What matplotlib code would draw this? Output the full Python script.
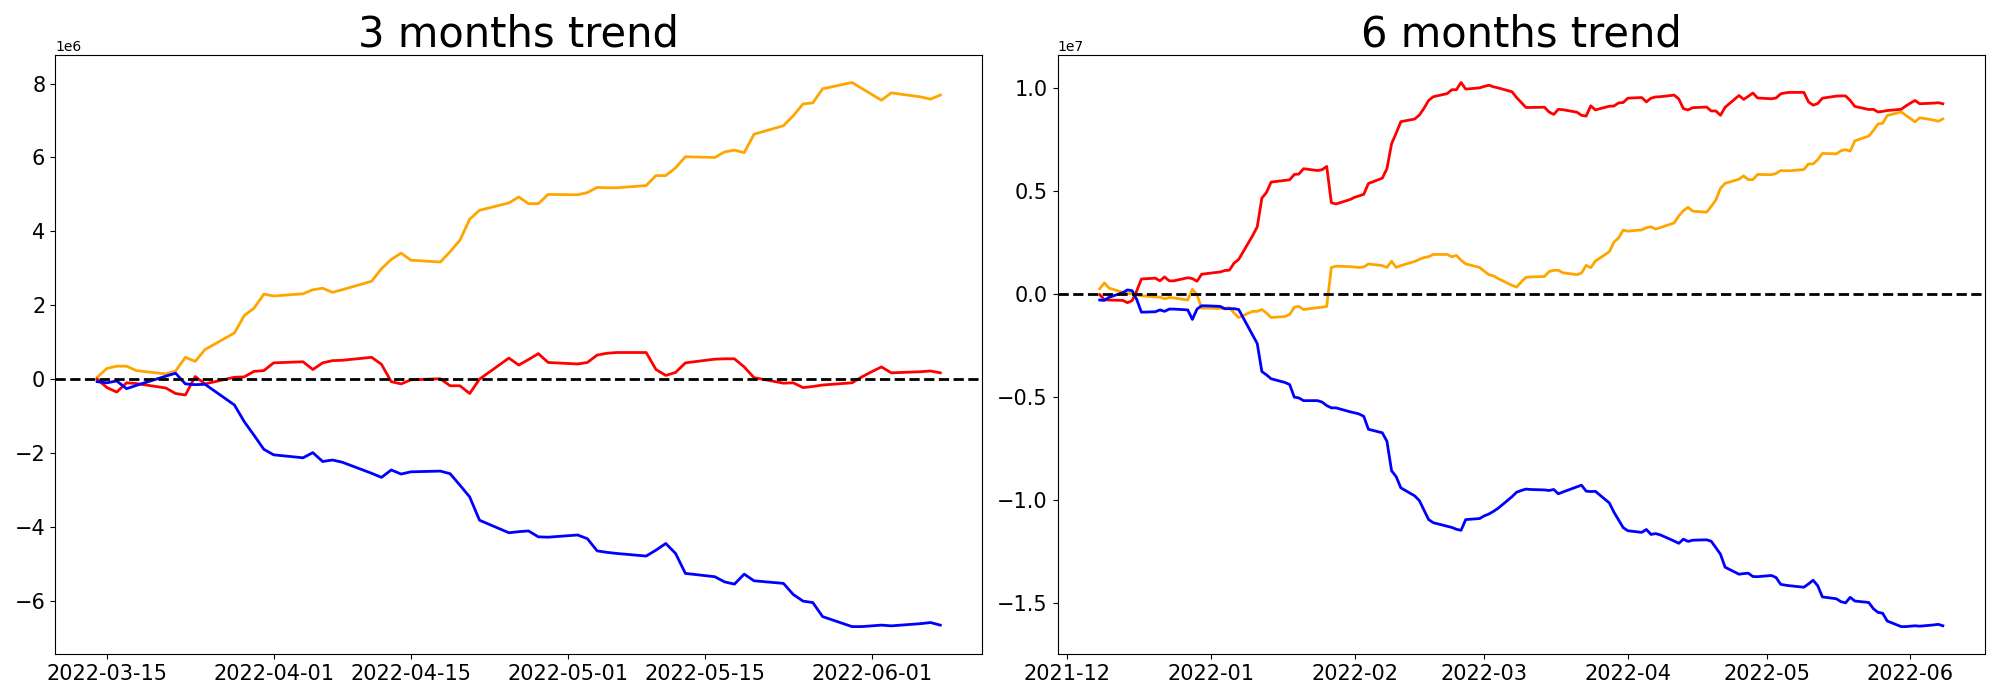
import pandas as pd
from matplotlib import pyplot as plt
import matplotlib.dates as mdates

# values in millions, one per weekday
dates3m = pd.bdate_range('2022-03-14', '2022-06-08')

orange3m = [0.05, 0.29, 0.35, 0.35, 0.23,
            0.14, 0.22, 0.59, 0.48, 0.80,
            1.25, 1.72, 1.92, 2.30, 2.25,
            2.31, 2.42, 2.46, 2.35, 2.42,
            2.65, 2.99, 3.24, 3.41, 3.22,
            3.17, 3.45, 3.76, 4.33, 4.57,
            4.77, 4.93, 4.75, 4.75, 5.00,
            4.99, 5.05, 5.19, 5.18, 5.18,
            5.24, 5.51, 5.51, 5.72, 6.02,
            6.00, 6.15, 6.20, 6.13, 6.63,
            6.86, 7.13, 7.45, 7.48, 7.86,
            8.03, 7.87, 7.71, 7.55, 7.75,
            7.64, 7.58, 7.69]

red3m = [0.00, -0.23, -0.35, -0.10, -0.12,
         -0.24, -0.39, -0.43, 0.07, -0.13,
         0.05, 0.06, 0.21, 0.23, 0.44,
         0.47, 0.26, 0.44, 0.50, 0.51,
         0.59, 0.40, -0.07, -0.13, -0.02,
         0.01, -0.18, -0.18, -0.39, 0.00,
         0.57, 0.38, 0.53, 0.69, 0.45,
         0.41, 0.45, 0.65, 0.70, 0.72,
         0.72, 0.26, 0.10, 0.18, 0.44,
         0.54, 0.55, 0.55, 0.33, 0.04,
         -0.11, -0.10, -0.23, -0.20, -0.16,
         -0.10, 0.06, 0.20, 0.33, 0.17,
         0.20, 0.22, 0.17]

blue3m = [-0.07, -0.10, -0.05, -0.26, -0.17,
          0.08, 0.16, -0.13, -0.15, -0.14,
          -0.70, -1.15, -1.52, -1.90, -2.05,
          -2.13, -1.99, -2.23, -2.19, -2.25,
          -2.55, -2.66, -2.46, -2.57, -2.51,
          -2.49, -2.56, -2.87, -3.19, -3.82,
          -4.16, -4.13, -4.11, -4.27, -4.28,
          -4.22, -4.32, -4.65, -4.69, -4.72,
          -4.79, -4.63, -4.45, -4.72, -5.26,
          -5.35, -5.49, -5.55, -5.28, -5.46,
          -5.53, -5.83, -6.01, -6.05, -6.43,
          -6.70, -6.70, -6.68, -6.66, -6.68,
          -6.62, -6.59, -6.66]

dates6m = pd.bdate_range('2021-12-08', '2022-06-08')

# 2021-12-08 .. 2022-03-11
orange6mHead = [0.25, 0.53, 0.28,
                0.07, 0.02, 0.00, -0.05, -0.09,
                -0.15, -0.16, -0.24, -0.18, -0.20,
                -0.30, 0.22, -0.04, -0.69, -0.69,
                -0.71, -0.71, -0.67, -0.93, -1.15,
                -0.85, -0.85, -0.76, -0.93, -1.15,
                -1.10, -1.00, -0.65, -0.61, -0.76,
                -0.67, -0.65, -0.61, 1.28, 1.34,
                1.32, 1.30, 1.28, 1.30, 1.45,
                1.37, 1.28, 1.58, 1.28, 1.37,
                1.57, 1.67, 1.76, 1.80, 1.91,
                1.91, 1.80, 1.86, 1.63, 1.45,
                1.28, 1.10, 0.93, 0.87, 0.74,
                0.41, 0.33, 0.58, 0.80, 0.82]
# 2022-03-14 .. 2022-06-08
orange6mTail = [0.84, 1.08, 1.14, 1.14, 1.02,
                0.93, 1.01, 1.38, 1.27, 1.59,
                2.04, 2.51, 2.71, 3.09, 3.04,
                3.10, 3.21, 3.25, 3.14, 3.21,
                3.44, 3.78, 4.03, 4.20, 4.01,
                3.96, 4.24, 4.55, 5.12, 5.36,
                5.56, 5.72, 5.54, 5.54, 5.79,
                5.78, 5.84, 5.98, 5.97, 5.97,
                6.03, 6.30, 6.30, 6.51, 6.81,
                6.79, 6.94, 6.99, 6.92, 7.42,
                7.65, 7.92, 8.24, 8.27, 8.65,
                8.82, 8.66, 8.50, 8.34, 8.54,
                8.43, 8.37, 8.48]

red6mHead = [-0.04, -0.28, -0.30,
             -0.32, -0.43, -0.33, 0.15, 0.72,
             0.76, 0.63, 0.82, 0.63, 0.63,
             0.78, 0.74, 0.61, 0.95, 0.98,
             1.06, 1.13, 1.15, 1.49, 1.67,
             2.82, 3.25, 4.64, 4.92, 5.42,
             5.50, 5.53, 5.79, 5.81, 6.07,
             5.98, 6.02, 6.18, 4.42, 4.36,
             4.57, 4.68, 4.75, 4.83, 5.35,
             5.61, 6.07, 7.28, 7.80, 8.35,
             8.48, 8.67, 9.00, 9.38, 9.56,
             9.71, 9.90, 9.90, 10.25, 9.93,
             9.99, 10.06, 10.12, 10.04, 9.99,
             9.80, 9.52, 9.28, 9.04, 9.04]
red6mTail = [9.05, 8.82, 8.70, 8.95, 8.93,
             8.81, 8.66, 8.62, 9.12, 8.92,
             9.10, 9.11, 9.26, 9.28, 9.49,
             9.52, 9.31, 9.49, 9.55, 9.56,
             9.64, 9.45, 8.98, 8.92, 9.03,
             9.06, 8.87, 8.87, 8.66, 9.05,
             9.62, 9.43, 9.58, 9.74, 9.50,
             9.46, 9.50, 9.70, 9.75, 9.77,
             9.77, 9.31, 9.15, 9.23, 9.49,
             9.59, 9.60, 9.60, 9.38, 9.09,
             8.94, 8.95, 8.82, 8.85, 8.89,
             8.95, 9.11, 9.25, 9.38, 9.22,
             9.25, 9.27, 9.22]

blue6mHead = [-0.30, -0.32, -0.17,
              0.06, 0.19, 0.15, -0.28, -0.89,
              -0.87, -0.78, -0.85, -0.74, -0.74,
              -0.78, -1.24, -0.74, -0.58, -0.58,
              -0.61, -0.72, -0.72, -0.72, -0.76,
              -2.00, -2.41, -3.77, -3.93, -4.12,
              -4.30, -4.40, -5.01, -5.05, -5.18,
              -5.18, -5.25, -5.42, -5.53, -5.53,
              -5.72, -5.77, -5.83, -5.94, -6.57,
              -6.74, -7.15, -8.58, -8.87, -9.41,
              -9.80, -10.03, -10.49, -10.95, -11.10,
              -11.27, -11.33, -11.42, -11.47, -10.95,
              -10.90, -10.77, -10.68, -10.55, -10.40,
              -9.84, -9.62, -9.54, -9.47, -9.49]
blue6mTail = [-9.51, -9.54, -9.49, -9.70, -9.61,
              -9.36, -9.28, -9.57, -9.59, -9.58,
              -10.14, -10.59, -10.96, -11.34, -11.49,
              -11.57, -11.43, -11.67, -11.63, -11.69,
              -11.99, -12.10, -11.90, -12.01, -11.95,
              -11.93, -12.00, -12.31, -12.63, -13.26,
              -13.60, -13.57, -13.55, -13.71, -13.72,
              -13.66, -13.76, -14.09, -14.13, -14.16,
              -14.23, -14.07, -13.89, -14.16, -14.70,
              -14.79, -14.93, -14.99, -14.72, -14.90,
              -14.97, -15.27, -15.45, -15.49, -15.87,
              -16.14, -16.14, -16.12, -16.10, -16.12,
              -16.06, -16.03, -16.10]

orange6m = orange6mHead + orange6mTail
red6m = red6mHead + red6mTail
blue6m = blue6mHead + blue6mTail


def addTrend(ax, dates, orange, red, blue, title):
    scale = 1e6
    ax.plot(dates, [v * scale for v in orange], color='orange', linewidth=2)
    ax.plot(dates, [v * scale for v in red], color='red', linewidth=2)
    ax.plot(dates, [v * scale for v in blue], color='blue', linewidth=2)
    ax.axhline(0, color='black', linestyle='--', linewidth=2)
    ax.set_title(title, fontsize=30)
    ax.tick_params(axis='both', labelsize=15)
    ax.yaxis.get_offset_text().set_fontsize(10)


fig, (ax1, ax2) = plt.subplots(1, 2, figsize=(20, 7), dpi=100)

addTrend(ax1, dates3m, orange3m, red3m, blue3m, '3 months trend')
ax1.xaxis.set_major_locator(mdates.DayLocator(bymonthday=[1, 15]))
ax1.xaxis.set_major_formatter(mdates.DateFormatter('%Y-%m-%d'))

addTrend(ax2, dates6m, orange6m, red6m, blue6m, '6 months trend')
ax2.xaxis.set_major_locator(mdates.MonthLocator())
ax2.xaxis.set_major_formatter(mdates.DateFormatter('%Y-%m'))

plt.subplots_adjust(left=0.0275, right=0.9925, bottom=0.066, top=0.921, wspace=0.081)
plt.savefig('out.png')
